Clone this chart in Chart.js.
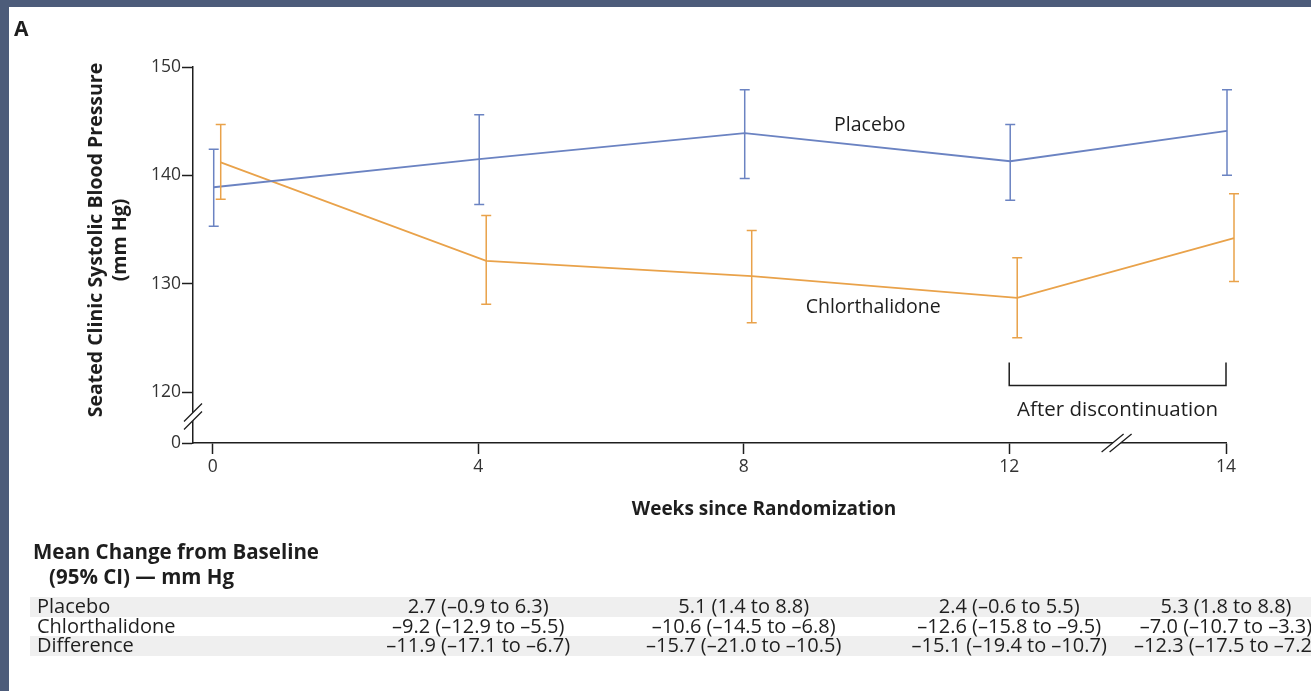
<!DOCTYPE html>
<html>
<head>
<meta charset="utf-8">
<script src="https://cdn.jsdelivr.net/npm/chart.js@4.4.1/dist/chart.umd.min.js"></script>
<style>
  html, body { margin: 0; padding: 0; background: #4d5c7a; }
  canvas { display: block; }
</style>
</head>
<body>
<canvas id="bp" width="1311" height="691"></canvas>
<script>
// values (mm Hg)
const weeks = [0, 4, 8, 12, 14];
const placeboMean = [138.9, 141.5, 143.9, 141.3, 144.1];
const placeboLow = [135.3, 137.3, 139.7, 137.7, 140.0];
const placeboHigh = [142.4, 145.6, 147.9, 144.7, 147.9];
const chlorMean = [141.2, 132.1, 130.7, 128.7, 134.2];
const chlorLow = [137.8, 128.1, 126.4, 125.0, 130.2];
const chlorHigh = [144.7, 136.3, 134.9, 132.4, 138.3];
const yTicks = [0, 120, 130, 140, 150];

// table under the chart
const tableWeeks = [4, 8, 12, 14];
const tableRows = ['Placebo', 'Chlorthalidone', 'Difference'];
const placeboChange = ['2.7 (–0.9 to 6.3)', '5.1 (1.4 to 8.8)', '2.4 (–0.6 to 5.5)', '5.3 (1.8 to 8.8)'];
const chlorChange = ['–9.2 (–12.9 to –5.5)', '–10.6 (–14.5 to –6.8)', '–12.6 (–15.8 to –9.5)', '–7.0 (–10.7 to –3.3)'];
const diffChange = ['–11.9 (–17.1 to –6.7)', '–15.7 (–21.0 to –10.5)', '–15.1 (–19.4 to –10.7)', '–12.3 (–17.5 to –7.2)'];

const BLUE = '#6b83c2';
const ORANGE = '#e9a24a';
const INK = '#1e1e1e';
const FONT = '"Open Sans", Lato, sans-serif';

// linear scale with a squeezed / stretched part beyond a break value
class BrokenScale extends Chart.LinearScale {
  warp(v) {
    const o = this.options;
    if (o.brkAt === undefined) return v;
    if (o.brkSide === 'above' && v > o.brkAt) return o.brkAt + (v - o.brkAt) * o.brkFactor;
    if (o.brkSide === 'below' && v < o.brkAt) return o.brkAt - (o.brkAt - v) * o.brkFactor;
    return v;
  }
  configure() {
    super.configure();
    this._startValue = this.warp(this.min);
    this._endValue = this.warp(this.max);
    this._valueRange = this._endValue - this._startValue;
  }
  getPixelForValue(v) {
    if (v === null || v === undefined) return NaN;
    return this.getPixelForDecimal((this.warp(v) - this._startValue) / this._valueRange);
  }
}
BrokenScale.id = 'broken';
BrokenScale.defaults = Chart.LinearScale.defaults;
Chart.register(BrokenScale);

const pts = (ys) => weeks.map((w, i) => ({ x: w, y: ys[i] }));

const bgPlugin = {
  id: 'bg',
  beforeDraw(chart) {
    const ctx = chart.ctx;
    ctx.save();
    ctx.fillStyle = '#4d5c7a';
    ctx.fillRect(0, 0, chart.width, chart.height);
    ctx.fillStyle = '#fff';
    ctx.fillRect(9, 7, chart.width - 9, chart.height - 7);
    ctx.restore();
  }
};

// shift series sideways a few pixels, like the original
const dodgePlugin = {
  id: 'dodge',
  afterDatasetsUpdate(chart) {
    chart.data.datasets.forEach((ds, i) => {
      if (!ds.dodge) return;
      chart.getDatasetMeta(i).data.forEach(p => { p.x += ds.dodge; });
    });
  }
};

const errorBars = {
  id: 'errorBars',
  afterDatasetsDraw(chart) {
    const ctx = chart.ctx, y = chart.scales.y;
    chart.data.datasets.forEach((ds, i) => {
      const meta = chart.getDatasetMeta(i);
      ctx.save();
      ctx.strokeStyle = ds.borderColor;
      ctx.lineWidth = 1.5;
      meta.data.forEach((p, j) => {
        const top = y.getPixelForValue(ds.high[j]);
        const bot = y.getPixelForValue(ds.low[j]);
        ctx.beginPath();
        ctx.moveTo(p.x, top); ctx.lineTo(p.x, bot);
        ctx.moveTo(p.x - 5, top); ctx.lineTo(p.x + 5, top);
        ctx.moveTo(p.x - 5, bot); ctx.lineTo(p.x + 5, bot);
        ctx.stroke();
      });
      ctx.restore();
    });
  }
};

function breakMark(ctx, cx, cy, vertical) {
  ctx.save();
  ctx.translate(cx, cy);
  ctx.fillStyle = '#fff';
  ctx.strokeStyle = INK;
  ctx.lineWidth = 1.3;
  const d = 4;
  if (vertical) {
    ctx.beginPath();
    ctx.moveTo(-9, 8 - d); ctx.lineTo(9, -10 - d); ctx.lineTo(9, -10 + d); ctx.lineTo(-9, 8 + d);
    ctx.closePath(); ctx.fill();
    ctx.beginPath();
    ctx.moveTo(-9, 8 - d); ctx.lineTo(9, -10 - d);
    ctx.moveTo(-9, 8 + d); ctx.lineTo(9, -10 + d);
    ctx.stroke();
  } else {
    ctx.beginPath();
    ctx.moveTo(-12 - d, 9); ctx.lineTo(10 - d, -9); ctx.lineTo(10 + d, -9); ctx.lineTo(-12 + d, 9);
    ctx.closePath(); ctx.fill();
    ctx.beginPath();
    ctx.moveTo(-12 - d, 9); ctx.lineTo(10 - d, -9);
    ctx.moveTo(-12 + d, 9); ctx.lineTo(10 + d, -9);
    ctx.stroke();
  }
  ctx.restore();
}

const annotations = {
  id: 'annotations',
  afterDraw(chart) {
    const ctx = chart.ctx, x = chart.scales.x, y = chart.scales.y;
    const area = chart.chartArea;
    ctx.save();
    ctx.fillStyle = INK;
    ctx.textBaseline = 'middle';

    // panel letter
    ctx.font = 'bold 21px ' + FONT;
    ctx.textAlign = 'left';
    ctx.fillText('A', 14, 30);

    // axis breaks
    breakMark(ctx, area.left, y.getPixelForValue(60), true);
    breakMark(ctx, x.getPixelForValue(13), area.bottom, false);

    // series labels
    ctx.font = '19.5px ' + FONT;
    ctx.textAlign = 'center';
    ctx.fillText('Placebo', x.getPixelForValue(9.9), y.getPixelForValue(144.6));
    ctx.fillText('Chlorthalidone', x.getPixelForValue(9.95), y.getPixelForValue(127.8));

    // bracket for the off-treatment period
    const bx0 = x.getPixelForValue(12), bx1 = x.getPixelForValue(14);
    const by = y.getPixelForValue(120) - 6.5;
    ctx.strokeStyle = INK;
    ctx.lineWidth = 1.5;
    ctx.beginPath();
    ctx.moveTo(bx0, by - 23); ctx.lineTo(bx0, by); ctx.lineTo(bx1, by); ctx.lineTo(bx1, by - 23);
    ctx.stroke();
    ctx.font = '20.5px ' + FONT;
    ctx.fillText('After discontinuation', (bx0 + bx1) / 2, by + 25);

    // axis titles
    ctx.font = 'bold 19px ' + FONT;
    ctx.fillText('Weeks since Randomization', 764, 510);
    ctx.save();
    ctx.translate(96, 240);
    ctx.rotate(-Math.PI / 2);
    ctx.font = 'bold 19.5px ' + FONT;
    ctx.fillText('Seated Clinic Systolic Blood Pressure', 0, 0);
    ctx.fillText('(mm Hg)', 0, 24);
    ctx.restore();

    // table
    ctx.textAlign = 'left';
    ctx.font = 'bold 20.5px ' + FONT;
    ctx.fillText('Mean Change from Baseline', 33, 553);
    ctx.fillText('(95% CI) — mm Hg', 49, 578);
    const rowY = [607, 627, 646];
    ctx.fillStyle = '#efefef';
    ctx.fillRect(30, rowY[0] - 10, chart.width - 30, 20);
    ctx.fillRect(30, rowY[2] - 10, chart.width - 30, 20);
    ctx.fillStyle = INK;
    ctx.font = '20px ' + FONT;
    const cells = [placeboChange, chlorChange, diffChange];
    tableRows.forEach((name, r) => {
      ctx.textAlign = 'left';
      ctx.fillText(name, 37, rowY[r]);
      ctx.textAlign = 'center';
      tableWeeks.forEach((w, c) => ctx.fillText(cells[r][c], x.getPixelForValue(w), rowY[r]));
    });
    ctx.restore();
  }
};

const tickFont = { family: FONT, size: 17.5 };

new Chart(document.getElementById('bp'), {
  type: 'line',
  data: {
    datasets: [
      { label: 'Placebo', data: pts(placeboMean), low: placeboLow, high: placeboHigh,
        borderColor: BLUE, borderWidth: 1.8, pointRadius: 0, clip: false, dodge: 1 },
      { label: 'Chlorthalidone', data: pts(chlorMean), low: chlorLow, high: chlorHigh,
        borderColor: ORANGE, borderWidth: 1.8, pointRadius: 0, clip: false, dodge: 8 }
    ]
  },
  options: {
    responsive: false,
    animation: false,
    devicePixelRatio: 1,
    layout: { padding: { top: 67, right: 85, bottom: 0, left: 0 } },
    plugins: { legend: { display: false }, tooltip: { enabled: false } },
    scales: {
      x: {
        type: 'broken', min: -0.297, max: 14,
        brkAt: 12, brkSide: 'above', brkFactor: 1.633,
        afterBuildTicks: s => { s.ticks = weeks.map(v => ({ value: v })); },
        afterFit: s => { s.height = 248; },
        grid: { drawOnChartArea: false, tickLength: 11, tickWidth: 1.5, tickColor: INK },
        border: { color: INK, width: 1.5 },
        ticks: { font: tickFont, color: '#333', padding: 3, maxRotation: 0, callback: v => v }
      },
      y: {
        type: 'broken', min: 0, max: 150,
        brkAt: 120, brkSide: 'below', brkFactor: 0.0392,
        afterBuildTicks: s => { s.ticks = yTicks.map(v => ({ value: v })); },
        afterFit: s => { s.width = 193; },
        grid: { drawOnChartArea: false, tickLength: 11, tickWidth: 1.5, tickColor: INK },
        border: { color: INK, width: 1.5 },
        ticks: { font: tickFont, color: '#333', padding: 1, callback: v => v }
      }
    }
  },
  plugins: [bgPlugin, dodgePlugin, errorBars, annotations]
});
</script>
</body>
</html>
